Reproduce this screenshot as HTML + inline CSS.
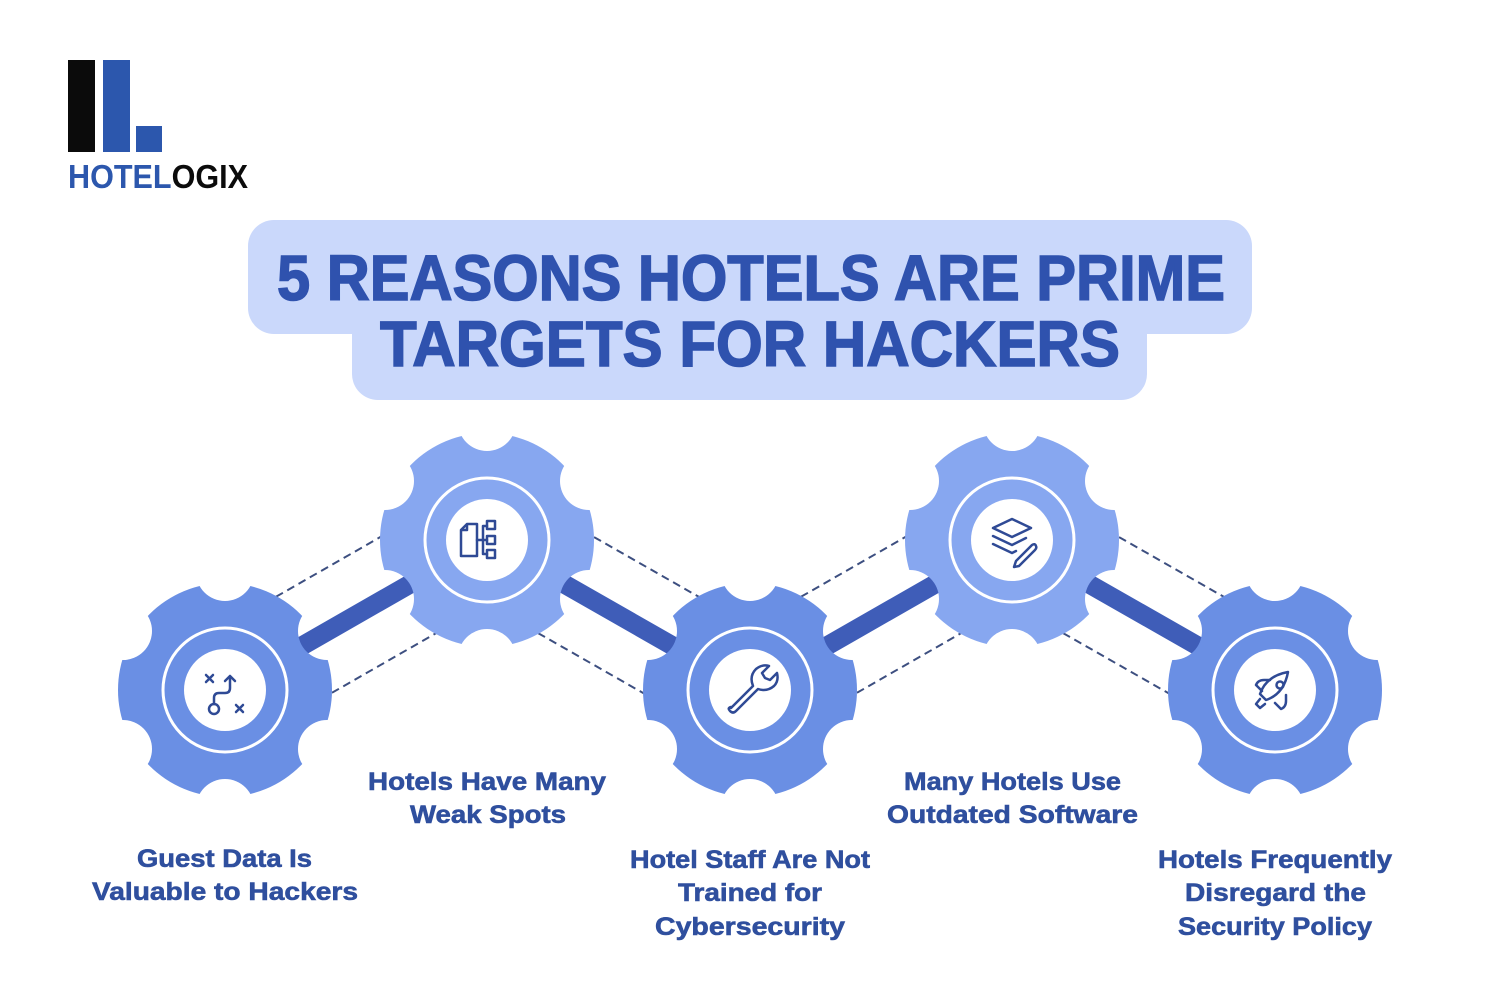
<!DOCTYPE html>
<html><head><meta charset="utf-8"><style>
html,body{margin:0;padding:0;background:#fff;}
svg{display:block}
</style></head><body>
<svg width="1500" height="1000" viewBox="0 0 1500 1000" xmlns="http://www.w3.org/2000/svg">
<defs>
<mask id="gm" maskUnits="userSpaceOnUse" x="-130" y="-130" width="260" height="260">
<rect x="-130" y="-130" width="260" height="260" fill="#000"/>
<circle r="107" fill="#fff"/>
<g fill="#000">
<circle cx="102" cy="-59" r="29"/><circle cx="0" cy="-118" r="29"/><circle cx="-102" cy="-59" r="29"/>
<circle cx="-102" cy="59" r="29"/><circle cx="0" cy="118" r="29"/><circle cx="102" cy="59" r="29"/>
</g>
</mask>
<g id="gear">
<rect x="-120" y="-120" width="240" height="240" mask="url(#gm)"/>
<circle r="62" fill="none" stroke="#fff" stroke-width="3"/>
<circle r="41" fill="#fff"/>
</g>
</defs>

<!-- logo -->
<rect x="68" y="60" width="27" height="92" fill="#0b0b0b"/>
<rect x="103" y="60" width="27" height="92" fill="#2c57ad"/>
<rect x="136" y="126" width="26" height="26" fill="#2c57ad"/>
<text x="68" y="188" font-family="Liberation Sans, sans-serif" font-weight="bold" font-size="33" textLength="180" lengthAdjust="spacingAndGlyphs"><tspan fill="#2c57ad">HOTEL</tspan><tspan fill="#0b0b0b">OGIX</tspan></text>

<!-- title box -->
<rect x="248" y="220" width="1004" height="114" rx="26" fill="#cad8fb"/>
<rect x="352" y="300" width="795" height="100" rx="26" fill="#cad8fb"/>
<g font-family="Liberation Sans, sans-serif" font-weight="bold" font-size="64" fill="#2f52ae" stroke="#2f52ae" stroke-width="1.5">
<text x="277" y="300" textLength="948" lengthAdjust="spacingAndGlyphs">5 REASONS HOTELS ARE PRIME</text>
<text x="380" y="366" textLength="740" lengthAdjust="spacingAndGlyphs">TARGETS FOR HACKERS</text>
</g>

<!-- dashed lines -->
<g stroke="#3d4f80" stroke-width="2" stroke-dasharray="8 5" fill="none">
<line x1="197" y1="642" x2="459" y2="492"/><line x1="253" y1="738" x2="515" y2="588"/>
<line x1="515" y1="492" x2="778" y2="642"/><line x1="459" y1="588" x2="722" y2="738"/>
<line x1="722" y1="642" x2="984" y2="492"/><line x1="778" y1="738" x2="1040" y2="588"/>
<line x1="1040" y1="492" x2="1303" y2="642"/><line x1="984" y1="588" x2="1247" y2="738"/>
</g>
<g stroke="#3f5db8" stroke-width="19" fill="none">
<polyline points="225,690 487,540 750,690 1012,540 1275,690"/>
</g>

<!-- gears -->
<use href="#gear" x="225" y="690" fill="#6a8fe4"/>
<use href="#gear" x="487" y="540" fill="#87a7f0"/>
<use href="#gear" x="750" y="690" fill="#6a8fe4"/>
<use href="#gear" x="1012" y="540" fill="#87a7f0"/>
<use href="#gear" x="1275" y="690" fill="#6a8fe4"/>

<!-- icons -->
<g stroke="#2f4a95" stroke-width="2.5" fill="none" stroke-linecap="round" stroke-linejoin="round">
<path d="M206 675 l7 7 M213 675 l-7 7"/>
<path d="M236 705 l7 7 M243 705 l-7 7"/>
<circle cx="214" cy="709" r="5"/>
<path d="M214 704 v-6 q0-5 5-5 h6 q5 0 5-5 v-12 M225 681 l5-5 5 5"/>
<path d="M461 530 l6-6 h10 v32 h-16 z M461 530 h6 v-6"/>
<path d="M477 540 h6 M483 526 v28 M483 526 h4 M483 540 h4 M483 554 h4"/>
<rect x="487" y="521" width="8" height="8"/><rect x="487" y="536" width="8" height="8"/><rect x="487" y="550" width="8" height="8"/>
<path d="M731 708 l22-22 q-4-10 3-17 q6-5 13-3 l-7 7 3 5 5 2 7-7 q2 8-3 13 q-7 6-16 3 l-22 22 q-3 3-6 0 q-3-3 1-4z"/>
<path d="M993 528 l19-9 19 9 -19 9z"/>
<path d="M993 536 l19 9 14-7 M993 544 l19 9 4-2"/>
<path d="M1016 561 l16-16 q3-2 4 1 q1 2-1 4 l-16 16 -5 1z"/>
<path d="M1266 700 l-6-6 q6-18 28-22 q-4 22-22 28z"/>
<circle cx="1280" cy="685" r="3.5"/>
<path d="M1262 691 l-6-6 q2-5 8-5 h6 M1275 703 l6 6 q5-2 5-8 v-6"/>
<path d="M1260 699 l-4 5 4 4 5-4"/>
</g>

<!-- labels -->
<g font-family="Liberation Sans, sans-serif" font-weight="bold" font-size="25" fill="#2f4f9e" stroke="#2f4f9e" stroke-width="0.6" lengthAdjust="spacingAndGlyphs">
<text x="137" y="867" textLength="175" lengthAdjust="spacingAndGlyphs">Guest Data Is</text>
<text x="92" y="900" textLength="266" lengthAdjust="spacingAndGlyphs">Valuable to Hackers</text>
<text x="368" y="790" textLength="238" lengthAdjust="spacingAndGlyphs">Hotels Have Many</text>
<text x="410" y="823" textLength="156" lengthAdjust="spacingAndGlyphs">Weak Spots</text>
<text x="630" y="868" textLength="240" lengthAdjust="spacingAndGlyphs">Hotel Staff Are Not</text>
<text x="678" y="901" textLength="144" lengthAdjust="spacingAndGlyphs">Trained for</text>
<text x="655" y="935" textLength="190" lengthAdjust="spacingAndGlyphs">Cybersecurity</text>
<text x="904" y="790" textLength="217" lengthAdjust="spacingAndGlyphs">Many Hotels Use</text>
<text x="887" y="823" textLength="251" lengthAdjust="spacingAndGlyphs">Outdated Software</text>
<text x="1158" y="868" textLength="234" lengthAdjust="spacingAndGlyphs">Hotels Frequently</text>
<text x="1185" y="901" textLength="181" lengthAdjust="spacingAndGlyphs">Disregard the</text>
<text x="1178" y="935" textLength="194" lengthAdjust="spacingAndGlyphs">Security Policy</text>
</g>
</svg>
</body></html>
